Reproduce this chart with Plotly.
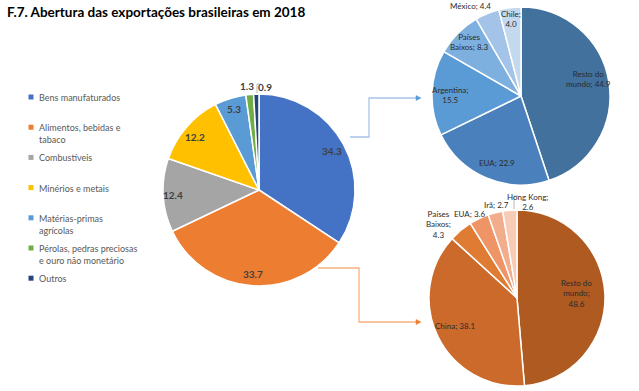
import math
import plotly.graph_objects as go

# ---------------- data ----------------
categories = ["Bens manufaturados", "Alimentos, bebidas e tabaco", "Combustíveis",
              "Minérios e metais", "Matérias-primas agrícolas",
              "Pérolas, pedras preciosas e ouro não monetário", "Outros"]
shares = [34.3, 33.7, 12.4, 12.2, 5.3, 1.3, 0.9]
legend_text = ["Bens manufaturados", "Alimentos, bebidas e<br>tabaco", "Combustíveis",
               "Minérios e metais", "Matérias-primas<br>agrícolas",
               "Pérolas, pedras preciosas<br>e ouro não monetário", "Outros"]

manuf_dest = ["Resto do mundo", "EUA", "Argentina", "Países Baixos", "México", "Chile"]
manuf_vals = [44.9, 22.9, 15.5, 8.3, 4.4, 4.0]
manuf_text = ["Resto do<br>mundo; {v}", "EUA; {v}", "Argentina;<br>{v}",
              "Países<br>Baixos; {v}", "México; {v}", "Chile;<br>{v}"]

food_dest = ["Resto do mundo", "China", "Países Baixos", "EUA", "Irã", "Hong Kong"]
food_vals = [48.6, 38.1, 4.3, 3.6, 2.7, 2.6]
food_text = ["Resto do<br>mundo;<br>{v}", "China; {v}", "Países<br>Baixos;<br>{v}",
             "EUA; {v}", "Irã; {v}", "Hong Kong;<br>{v}"]

title = "F.7. Abertura das exportações brasileiras em 2018"

# ---------------- style ----------------
W, H = 639, 391
FONT = "Lato"
main_colors = ["#4472C4", "#ED7D31", "#A5A5A5", "#FFC000", "#5B9BD5", "#70AD47", "#264478"]
manuf_colors = ["#41719C", "#4A80BC", "#5B9BD5", "#7EB0DF", "#A3C4E8", "#C4D8EE"]
food_colors = ["#AE5A21", "#CB6A2A", "#E07B34", "#EE9466", "#F2AD8C", "#F8CBB6"]

# pie geometry in pixels: (cx, cy, r)
main_geo = (259, 190, 96)
manuf_geo = (521, 96, 89)
food_geo = (517, 298, 88)

# label placement: radial fraction and angle offset (deg)
main_lab = dict(r=[0.86, 0.875, 0.9, 0.865, 0.885, 1.09, 1.08], off=[0, 0, 0, -1, 0, -1, 5])
manuf_lab = dict(r=[0.78, 0.80, 0.80, 0.84, 1.16, 0.87], off=[-5, -3, -1, 1, -7, 0])
food_lab = dict(r=[0.68, 0.77, 1.22, 1.10, 1.08, 1.10], off=[-2, 2, -7, -4, 2, 11])


def px(x):
    return x / W


def py(y):
    return 1 - y / H


def domain(geo):
    cx, cy, r = geo
    return dict(x=[px(cx - r), px(cx + r)], y=[py(cy + r), py(cy - r)])


fig = go.Figure()


def add_pie(labels, values, colors, geo, name):
    fig.add_trace(go.Pie(
        labels=labels, values=values, sort=False, direction="clockwise", rotation=0,
        marker=dict(colors=colors, line=dict(color="white", width=1.5)),
        textinfo="none", hoverinfo="label+value", showlegend=False,
        domain=domain(geo), name=name,
    ))


add_pie(categories, shares, main_colors, main_geo, "Exportações")
add_pie(manuf_dest, manuf_vals, manuf_colors, manuf_geo, "Bens manufaturados")
add_pie(food_dest, food_vals, food_colors, food_geo, "Alimentos")

annotations = []


def add_labels(values, texts, geo, lab, size, bold, color):
    cx, cy, r = geo
    total = sum(values)
    cum = 0
    for i, v in enumerate(values):
        mid = (cum + v / 2) / total * 360 + lab["off"][i]
        cum += v
        rr = lab["r"][i] * r
        x = cx + rr * math.sin(math.radians(mid))
        y = cy - rr * math.cos(math.radians(mid))
        t = texts[i].format(v=f"{v:.1f}")
        if bold:
            t = f"<b>{t}</b>"
        annotations.append(dict(
            x=px(x), y=py(y), xref="paper", yref="paper", text=t, showarrow=False,
            xanchor="center", yanchor="middle", align="center",
            font=dict(family=FONT, size=size, color=color),
        ))


add_labels(shares, ["{v}"] * len(shares), main_geo, main_lab, 10, True, "#404040")
add_labels(manuf_vals, manuf_text, manuf_geo, manuf_lab, 8, False, "#2b2b2b")
add_labels(food_vals, food_text, food_geo, food_lab, 8, False, "#2b2b2b")

# title
annotations.append(dict(x=px(5), y=py(12), xref="paper", yref="paper", text=f"<b>{title}</b>",
                        showarrow=False, xanchor="left", yanchor="middle",
                        font=dict(family=FONT, size=13.5, color="#000000")))

# custom legend
shapes = []
for i, (t, c) in enumerate(zip(legend_text, main_colors)):
    yc = 97 + 30.2 * i
    shapes.append(dict(type="rect", xref="paper", yref="paper",
                       x0=px(28.5), x1=px(33.5), y0=py(yc + 2.5), y1=py(yc - 2.5),
                       fillcolor=c, line=dict(width=0)))
    annotations.append(dict(x=px(37), y=py(yc - 7), xref="paper", yref="paper", text=t,
                            showarrow=False, xanchor="left", yanchor="top", align="left",
                            font=dict(family=FONT, size=9, color="#595959")))

# connectors


def path(pts):
    s = "M " + " L ".join(f"{px(x)},{py(y)}" for x, y in pts)
    return s


shapes.append(dict(type="path", xref="paper", yref="paper",
                   path=path([(350, 137), (369, 137), (369, 98), (417, 98)]),
                   line=dict(color="#A9C4E8", width=1.3)))
shapes.append(dict(type="path", xref="paper", yref="paper",
                   path=path([(416, 95.5), (421, 98), (416, 100.5)]) + " Z",
                   fillcolor="#5B9BD5", line=dict(color="#5B9BD5", width=0.5)))
shapes.append(dict(type="path", xref="paper", yref="paper",
                   path=path([(318, 268), (359, 268), (359, 322), (417, 322)]),
                   line=dict(color="#F4B183", width=1.3)))
shapes.append(dict(type="path", xref="paper", yref="paper",
                   path=path([(416, 319.5), (421, 322), (416, 324.5)]) + " Z",
                   fillcolor="#ED7D31", line=dict(color="#ED7D31", width=0.5)))
# leader lines
shapes.append(dict(type="path", xref="paper", yref="paper",
                   path=path([(257, 93), (257, 84), (261, 84)]),
                   line=dict(color="#A6A6A6", width=0.8)))
shapes.append(dict(type="path", xref="paper", yref="paper",
                   path=path([(514, 209), (514, 196), (518, 196)]),
                   line=dict(color="#A6A6A6", width=0.8)))

fig.update_layout(
    width=W, height=H, margin=dict(l=0, r=0, t=0, b=0),
    paper_bgcolor="white", plot_bgcolor="white",
    annotations=annotations, shapes=shapes, showlegend=False,
    font=dict(family=FONT),
)

fig.write_html("out.html", config={"displayModeBar": False},
               post_script="document.body.style.margin='0';document.body.style.overflow='hidden';")
